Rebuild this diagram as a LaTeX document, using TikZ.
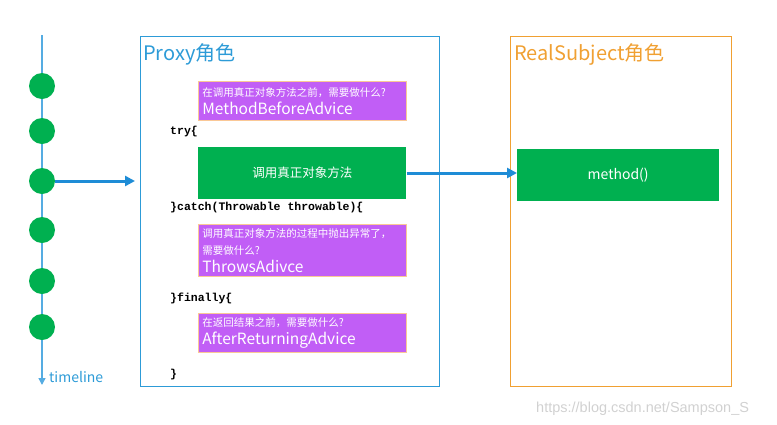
\documentclass[tikz,border=0pt]{standalone}
\usepackage{fontspec}
\setmainfont{Noto Sans CJK SC}
\newfontfamily\codefont{Liberation Mono}
\newfontfamily\urlfont{Liberation Sans}
\usetikzlibrary{arrows.meta,positioning}

\definecolor{timeblue}{RGB}{85,172,226}
\definecolor{linkblue}{RGB}{30,140,214}
\definecolor{proxyblue}{RGB}{45,155,215}
\definecolor{realorange}{RGB}{240,160,50}
\definecolor{callgreen}{RGB}{0,176,80}
\definecolor{advpurple}{RGB}{193,94,246}
\definecolor{advedge}{RGB}{250,200,150}

\begin{document}
\begin{tikzpicture}[
    x=1pt, y=-1pt,
    role/.style={rectangle, draw, line width=1.2pt, inner sep=0pt, anchor=north west},
    title/.style={anchor=base west, inner sep=0pt, font=\fontsize{20}{24}\selectfont},
    dot/.style={circle, fill=callgreen, minimum size=26pt, inner sep=0pt},
    call/.style={rectangle, fill=callgreen, text=white, minimum width=208pt, minimum height=52pt, inner sep=0pt},
    advice/.style={rectangle, fill=advpurple, draw=advedge, line width=0.8pt, text=white, align=left, text width=200pt, inner sep=4pt},
    code/.style={anchor=base west, inner sep=0pt, font=\codefont\bfseries\fontsize{11.5}{14}\selectfont},
    link/.style={-{Triangle[width=10pt,length=10pt]}, draw=linkblue, line width=3pt}
]
\useasboundingbox (0,0) rectangle (777,424);

% Timeline
\coordinate (tstart) at (42,35);
\coordinate (tend) at (42,385);
\draw[-{Triangle[width=7pt,length=7pt]}, draw=timeblue, fill=timeblue, line width=1.5pt] (tstart) -- (tend);
\node[anchor=base west, inner sep=0pt, text=proxyblue, font=\fontsize{14}{16}\selectfont] (tlabel) at (49,382) {timeline};
\foreach \y in {86,131,181,230,281,327}
    \node[dot] (d\y) at (42,\y) {};

% Proxy role
\node[role, draw=proxyblue, minimum width=299pt, minimum height=350pt] (proxy) at (140,36) {};
\node[title, text=proxyblue] (ptitle) at (143,60) {Proxy角色};

% RealSubject role
\node[role, draw=realorange, minimum width=221pt, minimum height=350pt] (real) at (510,36) {};
\node[title, text=realorange] (rtitle) at (514,60) {RealSubject角色};

% Advice boxes and call
\node[advice, anchor=north west, minimum height=39pt] (before) at (198,81)
    {\fontsize{10.5}{12}\selectfont 在调用真正对象方法之前，需要做什么?\\[3pt]
     \fontsize{15.5}{18}\selectfont MethodBeforeAdvice};
\node[call, below=26pt of before, font=\fontsize{12.5}{15}\selectfont] (invoke) {调用真正对象方法};
\node[advice, below=25pt of invoke, minimum height=52pt] (throws)
    {\fontsize{10.5}{14}\selectfont 调用真正对象方法的过程中抛出异常了，\\[3pt]
     \fontsize{10.5}{14}\selectfont 需要做什么?\\[4pt]
     \fontsize{15.5}{18}\selectfont ThrowsAdivce};
\node[advice, below=36pt of throws, minimum height=39pt] (after)
    {\fontsize{10.5}{12}\selectfont 在返回结果之前，需要做什么?\\[3pt]
     \fontsize{15.5}{18}\selectfont AfterReturningAdvice};

% Code lines
\node[code] (ctry) at (170,134) {try\{};
\node[code] (ccatch) at (170,210) {\}catch(Throwable throwable)\{};
\node[code] (cfinally) at (170,301) {\}finally\{};
\node[code] (cend) at (170,377) {\}};

% Real method
\node[call, anchor=north west, minimum width=202pt, font=\fontsize{14}{16}\selectfont] (method) at (517,149) {method()};

% Arrows
\coordinate (hit) at (135,181);
\draw[link] (d181.east) -- (hit);
\draw[link] (invoke.east) -- (invoke.east -| method.west);

% Watermark
\node[anchor=base west, inner sep=0pt, text=black!18, font=\urlfont\fontsize{14.5}{16}\selectfont] (mark) at (536,412) {https://blog.csdn.net/Sampson\_S};

\end{tikzpicture}
\end{document}
